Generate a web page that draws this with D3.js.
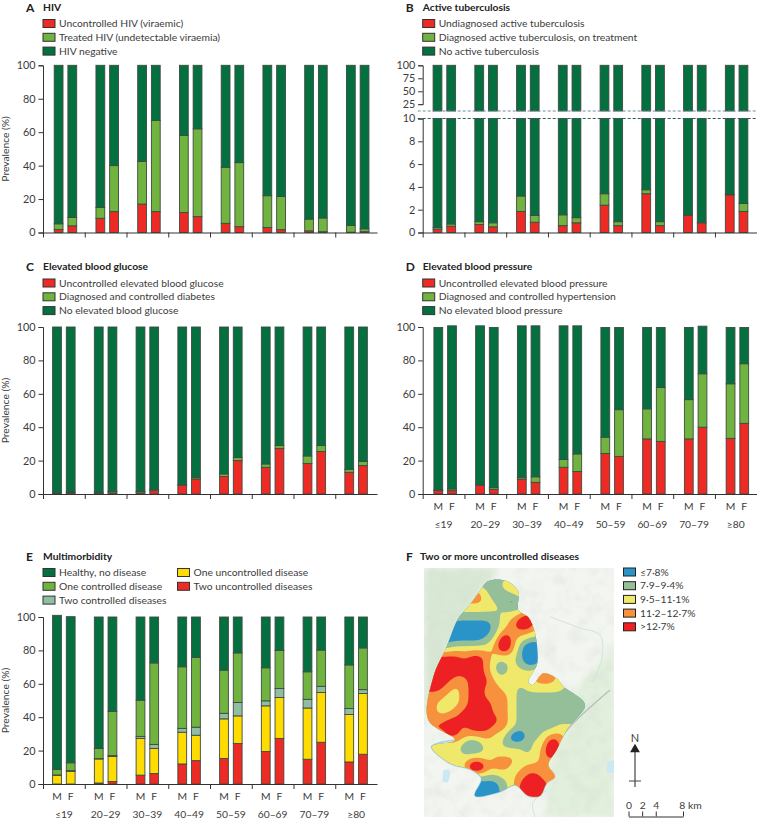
<!DOCTYPE html>
<html>
<head>
<meta charset="utf-8">
<script src="https://cdnjs.cloudflare.com/ajax/libs/d3/7.8.5/d3.min.js"></script>
<style>
  body { margin: 0; background: #fff; overflow: hidden; }
  svg { display: block; }
  text { font-family: Lato, sans-serif; fill: #3c3c3c; }
</style>
</head>
<body>
<div class="container"></div>
<script>
const w = 757;
const h = 819;

const ageGroups = ['≤19', '20–29', '30–39', '40–49', '50–59', '60–69', '70–79', '≥80'];
const sexes = ['M', 'F'];

// A - HIV
const hivUncontrolledM = [1.8, 8.5, 17, 12, 5.5, 3, 1, 0.2];
const hivUncontrolledF = [4, 12.5, 12.5, 9.5, 3.5, 1.7, 0.5, 0.5];
const hivTreatedM = [3.4, 6.5, 25.5, 46, 33.5, 19, 7, 4];
const hivTreatedF = [5, 27.5, 54.5, 52.5, 38.3, 19.8, 8.2, 1.7];
const hivNegativeM = [94.8, 85, 57.5, 42, 61, 78, 92, 95.8];
const hivNegativeF = [91, 60, 33, 38, 58.2, 78.5, 91.3, 97.8];

// B - tuberculosis
const tbUndiagnosedM = [0.3, 0.7, 1.85, 0.6, 2.4, 3.4, 1.5, 3.3];
const tbUndiagnosedF = [0.55, 0.5, 0.9, 0.85, 0.6, 0.6, 0.85, 1.85];
const tbTreatedM = [0.15, 0.25, 1.35, 0.95, 1, 0.35, 0.05, 0.05];
const tbTreatedF = [0.2, 0.35, 0.6, 0.45, 0.35, 0.35, 0, 0.7];
const tbNoneM = [99.55, 99.05, 96.8, 98.45, 96.6, 96.25, 98.45, 96.65];
const tbNoneF = [99.25, 99.15, 98.5, 98.7, 99.05, 99.05, 99.15, 97.45];

// C - glucose
const glucoseUncontrolledM = [0.1, 0.3, 0.7, 5.2, 10.5, 16, 18.3, 13];
const glucoseUncontrolledF = [0.7, 0.7, 2, 9, 20, 27.3, 25.5, 17];
const glucoseControlledM = [0.5, 0.7, 0.8, 0.6, 1.5, 2, 4.5, 1.8];
const glucoseControlledF = [0.5, 0.8, 0.8, 0.8, 1.8, 1.7, 3.5, 2.5];
const glucoseNoneM = [99.4, 99, 98.5, 94.2, 88, 82, 77.2, 85.2];
const glucoseNoneF = [98.8, 98.5, 97.2, 90.2, 78.2, 71, 71, 80.5];

// D - blood pressure
const bpUncontrolledM = [2, 5.2, 9, 16, 24.3, 33, 33, 33.3];
const bpUncontrolledF = [2, 2.8, 7, 13.5, 22.5, 31.5, 40, 42.3];
const bpControlledM = [0.6, 0.6, 1, 4.7, 9.7, 18, 23.5, 32.7];
const bpControlledF = [1, 1, 3.3, 10.5, 28, 32.3, 32, 35.7];
const bpNoneM = [97.1, 94.9, 90.7, 80, 65.7, 48.7, 43.2, 33.7];
const bpNoneF = [97.7, 95.9, 90.4, 76.7, 49.2, 35.9, 28.5, 21.7];

// E - multimorbidity
const twoUncontrolledM = [0, 0.6, 5.3, 12, 15.3, 19.5, 14.8, 13.2];
const twoUncontrolledF = [0, 1.5, 6.3, 14, 24.3, 27.3, 25, 17.8];
const oneUncontrolledM = [5.2, 14.4, 22, 19, 23.7, 27.3, 30.7, 28.4];
const oneUncontrolledF = [7.6, 15, 15, 15.2, 16.5, 24.5, 29.8, 36.4];
const twoControlledM = [0.2, 0.2, 1.2, 2.3, 3.3, 3, 5.2, 3.6];
const twoControlledF = [0.4, 0.5, 2.4, 4.8, 8, 5.4, 3.7, 2.3];
const oneControlledM = [3.3, 6.1, 21.7, 36.9, 25.9, 19.8, 16.5, 26.1];
const oneControlledF = [4.7, 26.5, 48.8, 41.8, 29.7, 22.8, 21.7, 25];
const healthyM = [92.3, 78.7, 49.8, 29.8, 31.8, 30.4, 32.8, 28.7];
const healthyF = [87.5, 56.5, 27.5, 24.2, 21.5, 20, 19.8, 18.5];

// F - map classes, one digit per grid point (1 lowest band, 5 highest,
// 0 and 6-7 push small spots past the band edge so the blur doesn't eat them)
const mapClasses = [
  '2222222202222222222222',
  '2222222222344333333333',
  '4444444422234333333333',
  '4444444432202222222222',
  '3333333333222222222222',
  '2222222222334644444444',
  '2222111112346644444444',
  '1111111112444433333333',
  '1111111123743222222222',
  '2222333334742001333333',
  '5555545543332001333333',
  '5555555542232113333333',
  '5555555542233335433333',
  '5555445553333344433333',
  '5554345544332333332222',
  '4443345544432222222233',
  '4433345554432222222222',
  '4433455554432222222222',
  '4445555555432222222222',
  '5555545554432222233333',
  '3335544443300223443333',
  '3333320233222233743333',
  '3333322233333234743333',
  '3333334434443334433333',
  '3333337744433444433333',
  '2222222222334554433333',
  '1111111111235555444444',
  '1111111111235555444444',
  '1111111111235555444444'
];
const mapBands = ['≤7·8%', '7·9–9·4%', '9·5–11·1%', '11·2–12·7%', '>12·7%'];
const mapThresholds = [-1, 1.5, 2.5, 3.5, 4.5];
const mapOutline = [
  [8.04, 0.63], [10.33, 0.63], [11.79, 1.96], [11.79, 4.25], [13.04, 5.17], [13.88, 7.17],
  [14.17, 10.92], [13.67, 11.96], [13.04, 13.21], [13.58, 13.63], [14.92, 12.17], [16.58, 12.79],
  [17.42, 13.83], [18.67, 14.67], [20.13, 16.13], [17.83, 19.25], [16.58, 21.75], [15.54, 23.63],
  [16.38, 25.08], [15.33, 25.92], [14.5, 27.46], [13.04, 27.46], [11.38, 26.13], [9.5, 26.96],
  [6.38, 27.46], [7.21, 25.29], [5.96, 24.25], [3.25, 23.42], [0.96, 21.33], [3.88, 20.5],
  [0.54, 18], [1.17, 12.58], [2.83, 8.83], [4.29, 5.29], [5.54, 3.83], [6.79, 2.17]
];
const mapForest = [[0, -1], [9.1, -1], [5.75, 4.25], [2.9, 9.9], [0.5, 17.4], [0, 17.4]];
const mapPlain = [[23.75, 8.6], [18.9, 14.25], [15.75, 22.6], [15.1, 30.1], [23.75, 30.1]];
const mapRivers = [
  [[15.75, 5.1], [19.5, 6.5], [22, 7.4], [22.25, 10.25], [21.1, 13.25]],
  [[15.4, 26.75], [13.6, 28.4], [13.9, 30.1]]
];
const mapRoad = [[23.25, 14.25], [17.9, 19.25], [15.75, 22.6]];
const mapLakes = [[[22.9, 23.25], [23.75, 23.1], [23.75, 24.6], [22.8, 24.5]], [[2.4, 24.3], [3.2, 24.3], [2.9, 25.8], [2.3, 25.7]]];
const scaleKm = [0, 2, 4, 8];

const red = '#ee2a24';
const lightGreen = '#70b33f';
const darkGreen = '#05703f';
const yellow = '#ffdc00';
const paleGreen = '#8fbea2';
const mapColors = ['#2a93c8', '#95bf98', '#f0e86a', '#f7913d', '#ed2024'];

// create svg area
const svg = d3.select('.container')
              .append('svg')
              .attr('width', w)
              .attr('height', h);

const panelW = 334;
const x = d3.scaleBand().domain(ageGroups).range([0, panelW]);
const xTicks = d3.scaleLinear().domain([0, 8]).range([0, panelW]);

function drawLegend(g, items, lx, ly) {
  items.forEach((d, i) => {
    g.append('rect')
     .attr('x', lx).attr('y', ly + i * 13.8 - 4)
     .attr('width', 12).attr('height', 8)
     .attr('fill', d.color)
     .attr('stroke', '#333').attr('stroke-width', 1);
    g.append('text')
     .attr('x', lx + 16).attr('y', ly + i * 13.8 + 3.6)
     .style('font-size', '10.3px')
     .text(d.label);
  });
}

function drawTitle(g, letter, title, lx, tx, ty) {
  g.append('text')
   .attr('x', lx).attr('y', ty + 1.3)
   .style('font-size', '12px').style('font-weight', 700).style('fill', '#222')
   .text(letter);
  g.append('text')
   .attr('x', tx).attr('y', ty)
   .style('font-size', '10.3px').style('font-weight', 700).style('fill', '#222')
   .text(title);
}

function drawBars(g, p, y, ySeg) {
  const offsets = d3.scalePoint().domain(sexes).range([p.offset, p.offset + 13.7]);
  sexes.forEach((sex, s) => {
    const rows = ageGroups.map((a, i) => {
      const row = {age: a};
      p.series.forEach((d) => { row[d.label] = d.values[s][i]; });
      return row;
    });
    const stack = d3.stack().keys(p.series.map((d) => d.label))(rows);
    stack.forEach((layer, l) => {
      g.append('g').selectAll('rect')
       .data(layer)
       .enter()
       .append('rect')
       .attr('x', (d) => x(d.data.age) + offsets(sex) - 4.4)
       .attr('width', 8.8)
       .attr('y', (d) => ySeg(d[1]))
       .attr('height', (d) => Math.max(0, ySeg(d[0]) - ySeg(d[1])))
       .attr('fill', p.series[l].color)
       .attr('stroke', '#3f4a42')
       .attr('stroke-width', 0.9);
    });
  });
}

function drawPanel(p) {
  const g = svg.append('g').attr('transform', `translate(${p.x}, 0)`);
  const y = d3.scaleLinear().domain([0, 100]).range([p.y0, p.y100]);

  drawBars(g, p, y, y);

  const yAxis = d3.axisLeft(y).tickValues([0, 20, 40, 60, 80, 100]).tickSize(4.5).tickPadding(3);
  styleAxis(g.append('g').call(yAxis));
  drawXAxis(g, p.y0);

  if (p.yTitle) drawYTitle(g, p.y0, p.y100);
  if (p.sexLabels) drawSexLabels(g, p);

  drawTitle(svg, p.letter, p.title, p.x - 17, p.x, p.titleY);
  drawLegend(svg, p.series, p.x, p.titleY + 13);
  return g;
}

function styleAxis(a) {
  a.selectAll('text').style('font-size', '10.8px').style('font-family', 'Lato, sans-serif');
  a.selectAll('path, line').attr('stroke', '#333');
}

function drawXAxis(g, y0) {
  const xAxis = d3.axisBottom(xTicks).tickValues(d3.range(8)).tickFormat('').tickSize(5).tickSizeOuter(0);
  styleAxis(g.append('g').attr('transform', `translate(0, ${y0})`).call(xAxis));
}

function drawYTitle(g, y0, y100) {
  g.append('text')
   .attr('transform', `translate(-34.5, ${(y0 + y100) / 2}) rotate(-90)`)
   .attr('text-anchor', 'middle')
   .style('font-size', '10.3px')
   .text('Prevalence (%)');
}

function drawSexLabels(g, p) {
  const offsets = d3.scalePoint().domain(sexes).range([p.offset, p.offset + 13.7]);
  ageGroups.forEach((a) => {
    sexes.forEach((sex) => {
      g.append('text')
       .attr('x', x(a) + offsets(sex)).attr('y', p.y0 + 16)
       .attr('text-anchor', 'middle')
       .style('font-size', '10.3px')
       .text(sex);
    });
    g.append('text')
     .attr('x', x(a) + x.bandwidth() / 2).attr('y', p.y0 + 33.5)
     .attr('text-anchor', 'middle')
     .style('font-size', '10.3px')
     .text(a);
  });
}

// panel A
drawPanel({
  letter: 'A', title: 'HIV', x: 43, y0: 232.5, y100: 65.3, titleY: 10.5, offset: 15.6, yTitle: true,
  series: [
    {label: 'Uncontrolled HIV (viraemic)', color: red, values: [hivUncontrolledM, hivUncontrolledF]},
    {label: 'Treated HIV (undetectable viraemia)', color: lightGreen, values: [hivTreatedM, hivTreatedF]},
    {label: 'HIV negative', color: darkGreen, values: [hivNegativeM, hivNegativeF]}
  ]
});

// panel B has a broken y axis so it doesn't go through drawPanel
(function () {
  const px = 422.7;
  const offset = 14.8;
  const g = svg.append('g').attr('transform', `translate(${px}, 0)`);
  const yLow = d3.scaleLinear().domain([0, 10]).range([232.5, 118.5]);
  const yHigh = d3.scaleLinear().domain([25, 100]).range([104.3, 65.3]);
  const series = [
    {label: 'Undiagnosed active tuberculosis', color: red, values: [tbUndiagnosedM, tbUndiagnosedF]},
    {label: 'Diagnosed active tuberculosis, on treatment', color: lightGreen, values: [tbTreatedM, tbTreatedF]},
    {label: 'No active tuberculosis', color: darkGreen, values: [tbNoneM, tbNoneF]}
  ];
  const offsets = d3.scalePoint().domain(sexes).range([offset, offset + 13.7]);

  // lower part clamps at 10, upper part is the same column above the break
  drawBars(g, {series: series, offset: offset}, yLow, (v) => yLow(Math.min(v, 10)));
  ageGroups.forEach((a) => {
    sexes.forEach((sex) => {
      g.append('rect')
       .attr('x', x(a) + offsets(sex) - 4.4)
       .attr('width', 8.8)
       .attr('y', yHigh(100))
       .attr('height', 111 - yHigh(100))
       .attr('fill', darkGreen)
       .attr('stroke', '#3f4a42')
       .attr('stroke-width', 0.9);
    });
  });

  styleAxis(g.append('g').call(d3.axisLeft(yLow).tickValues([0, 2, 4, 6, 8, 10]).tickSize(4.5).tickPadding(3)));
  styleAxis(g.append('g').call(d3.axisLeft(yHigh).tickValues([25, 50, 75, 100]).tickSize(4.5).tickPadding(3)));
  drawXAxis(g, 232.5);

  g.append('rect').attr('x', -6).attr('y', 105.5).attr('width', 6).attr('height', 12).attr('fill', '#fff');
  g.append('line')
   .attr('x1', -5).attr('x2', 334).attr('y1', 111).attr('y2', 111)
   .attr('stroke', '#6f8f98').attr('stroke-dasharray', '3 2');
  g.append('line')
   .attr('x1', -5).attr('x2', 334).attr('y1', 118.5).attr('y2', 118.5)
   .attr('stroke', '#2f5a66').attr('stroke-dasharray', '3 2');

  drawTitle(svg, 'B', 'Active tuberculosis', px - 17, px, 10.5);
  drawLegend(svg, series, px, 23.5);
})();

// panel C
drawPanel({
  letter: 'C', title: 'Elevated blood glucose', x: 43, y0: 494, y100: 327, titleY: 270, offset: 14, yTitle: true,
  series: [
    {label: 'Uncontrolled elevated blood glucose', color: red, values: [glucoseUncontrolledM, glucoseUncontrolledF]},
    {label: 'Diagnosed and controlled diabetes', color: lightGreen, values: [glucoseControlledM, glucoseControlledF]},
    {label: 'No elevated blood glucose', color: darkGreen, values: [glucoseNoneM, glucoseNoneF]}
  ]
});

// panel D
drawPanel({
  letter: 'D', title: 'Elevated blood pressure', x: 422.7, y0: 494, y100: 327, titleY: 270, offset: 15.6, sexLabels: true,
  series: [
    {label: 'Uncontrolled elevated blood pressure', color: red, values: [bpUncontrolledM, bpUncontrolledF]},
    {label: 'Diagnosed and controlled hypertension', color: lightGreen, values: [bpControlledM, bpControlledF]},
    {label: 'No elevated blood pressure', color: darkGreen, values: [bpNoneM, bpNoneF]}
  ]
});

// panel E - legend has two columns
(function () {
  const p = {
    letter: 'E', title: 'Multimorbidity', x: 43, y0: 784, y100: 617, offset: 14, yTitle: true, sexLabels: true,
    series: [
      {label: 'Two uncontrolled diseases', color: red, values: [twoUncontrolledM, twoUncontrolledF]},
      {label: 'One uncontrolled disease', color: yellow, values: [oneUncontrolledM, oneUncontrolledF]},
      {label: 'Two controlled diseases', color: paleGreen, values: [twoControlledM, twoControlledF]},
      {label: 'One controlled disease', color: lightGreen, values: [oneControlledM, oneControlledF]},
      {label: 'Healthy, no disease', color: darkGreen, values: [healthyM, healthyF]}
    ]
  };
  const g = svg.append('g').attr('transform', `translate(${p.x}, 0)`);
  const y = d3.scaleLinear().domain([0, 100]).range([p.y0, p.y100]);
  drawBars(g, p, y, y);
  styleAxis(g.append('g').call(d3.axisLeft(y).tickValues([0, 20, 40, 60, 80, 100]).tickSize(4.5).tickPadding(3)));
  drawXAxis(g, p.y0);
  drawYTitle(g, p.y0, p.y100);
  drawSexLabels(g, p);
  drawTitle(svg, p.letter, p.title, p.x - 17, p.x, 560);
  drawLegend(svg, [p.series[4], p.series[3], p.series[2]], p.x, 572.5);
  drawLegend(svg, [p.series[1], p.series[0]], 177.5, 572.5);
})();

// panel F - map
const mapX = d3.scaleLinear().domain([0, 1]).range([424, 432]);
const mapY = d3.scaleLinear().domain([0, 1]).range([576, 584]);
const mapPath = d3.line().curve(d3.curveCatmullRom).x((d) => mapX(d[0])).y((d) => mapY(d[1]));

const defs = svg.append('defs');
defs.append('clipPath').attr('id', 'map-frame')
    .append('rect').attr('x', 424).attr('y', 568).attr('width', 190).attr('height', 249);
defs.append('clipPath').attr('id', 'study-area')
    .append('path').attr('d', d3.line().curve(d3.curveCatmullRomClosed).x((d) => mapX(d[0])).y((d) => mapY(d[1]))(mapOutline));
const blur = defs.append('filter').attr('id', 'soft');
blur.append('feGaussianBlur').attr('stdDeviation', 3);
const noise = defs.append('filter').attr('id', 'terrain');
noise.append('feTurbulence').attr('type', 'fractalNoise').attr('baseFrequency', 0.07).attr('numOctaves', 3).attr('seed', 4);
noise.append('feColorMatrix').attr('values', '0 0 0 0 0.6  0 0 0 0 0.65  0 0 0 0 0.6  1.8 0 0 0 -0.72');

const base = svg.append('g').attr('clip-path', 'url(#map-frame)');
base.append('rect').attr('x', 424).attr('y', 568).attr('width', 190).attr('height', 249).attr('fill', '#f3f5f0');
base.append('path').attr('d', d3.line().x((d) => mapX(d[0])).y((d) => mapY(d[1]))(mapForest) + 'Z').attr('fill', '#d9e8d4').attr('filter', 'url(#soft)');
base.append('path').attr('d', d3.line().x((d) => mapX(d[0])).y((d) => mapY(d[1]))(mapPlain) + 'Z').attr('fill', '#e2efdc').attr('filter', 'url(#soft)');
base.append('rect').attr('x', 424).attr('y', 568).attr('width', 190).attr('height', 249)
    .attr('filter', 'url(#terrain)').attr('opacity', 0.3);
base.selectAll('.lake').data(mapLakes).enter().append('path')
    .attr('class', 'lake').attr('d', (d) => mapPath(d) + 'Z').attr('fill', '#cbe8f3');
base.selectAll('.river').data(mapRivers).enter().append('path')
    .attr('class', 'river').attr('d', mapPath).attr('fill', 'none').attr('stroke', '#c4e0e2').attr('stroke-width', 0.8);
base.append('path').attr('d', mapPath(mapRoad)).attr('fill', 'none').attr('stroke', '#b9bdb9').attr('stroke-width', 1.2);
// lake shore along the south side
base.append('path').attr('d', mapPath(mapOutline.slice(18, 30)))
    .attr('fill', 'none').attr('stroke', '#a5d5e8').attr('stroke-width', 1.6);

// bands come from the value grid through d3.contours, resampled finer and blurred so the edges are round
const fine = 4;
const gridW = mapClasses[0].length;
const gridH = mapClasses.length;
const gridValue = (c, r) => +mapClasses[Math.min(r, gridH - 1)][Math.min(c, gridW - 1)];
const fineW = (gridW - 1) * fine + 1;
const fineH = (gridH - 1) * fine + 1;
const fineValues = [];
for (let j = 0; j < fineH; j++) {
  for (let i = 0; i < fineW; i++) {
    const c = Math.floor(i / fine);
    const r = Math.floor(j / fine);
    const tx = i / fine - c;
    const ty = j / fine - r;
    const top = gridValue(c, r) * (1 - tx) + gridValue(c + 1, r) * tx;
    const bottom = gridValue(c, r + 1) * (1 - tx) + gridValue(c + 1, r + 1) * tx;
    fineValues.push(top * (1 - ty) + bottom * ty);
  }
}
const smooth = d3.blur2({data: fineValues, width: fineW, height: fineH}, 1.5).data;
const contours = d3.contours().size([fineW, fineH]).thresholds(mapThresholds)(smooth);
const contourPath = d3.geoPath(d3.geoTransform({
  point: function (px, py) { this.stream.point(mapX((px - 0.5) / fine), mapY((py - 0.5) / fine)); }
}));
svg.append('g').attr('clip-path', 'url(#study-area)')
   .selectAll('path')
   .data(contours)
   .enter()
   .append('path')
   .attr('d', contourPath)
   .attr('fill', (d, i) => mapColors[i]);

drawTitle(svg, 'F', 'Two or more uncontrolled diseases', 406, 420, 560);

mapBands.forEach((d, i) => {
  svg.append('rect')
     .attr('x', 623.5).attr('y', 568 + i * 13.7)
     .attr('width', 12).attr('height', 8)
     .attr('fill', mapColors[i])
     .attr('stroke', '#222');
  svg.append('text')
     .attr('x', 640).attr('y', 575.6 + i * 13.7)
     .style('font-size', '10.3px')
     .text(d);
});

// north arrow
svg.append('text').attr('x', 635).attr('y', 742).attr('text-anchor', 'middle').style('font-size', '11px').text('N');
svg.append('line').attr('x1', 635).attr('x2', 635).attr('y1', 750).attr('y2', 787).attr('stroke', '#444').attr('stroke-width', 1.2);
svg.append('line').attr('x1', 629).attr('x2', 641).attr('y1', 781).attr('y2', 781).attr('stroke', '#444');
svg.append('path').attr('d', d3.symbol(d3.symbolTriangle, 42)()).attr('transform', 'translate(635, 749.5)').attr('fill', '#222');

// scale bar
const kmScale = d3.scaleLinear().domain([0, 8]).range([628.5, 683]);
const scaleAxis = d3.axisTop(kmScale).tickValues(scaleKm).tickSize(5).tickPadding(3)
                    .tickFormat((d) => (d === 8 ? '8 km' : d)).tickSizeOuter(0);
const scaleG = svg.append('g').attr('transform', 'translate(0, 816.5)').call(scaleAxis);
scaleG.selectAll('text').style('font-size', '10.3px').style('font-family', 'Lato, sans-serif');
scaleG.selectAll('text').filter((d) => d === 8).attr('dx', 7);
scaleG.selectAll('path, line').attr('stroke', '#333');
</script>
</body>
</html>
